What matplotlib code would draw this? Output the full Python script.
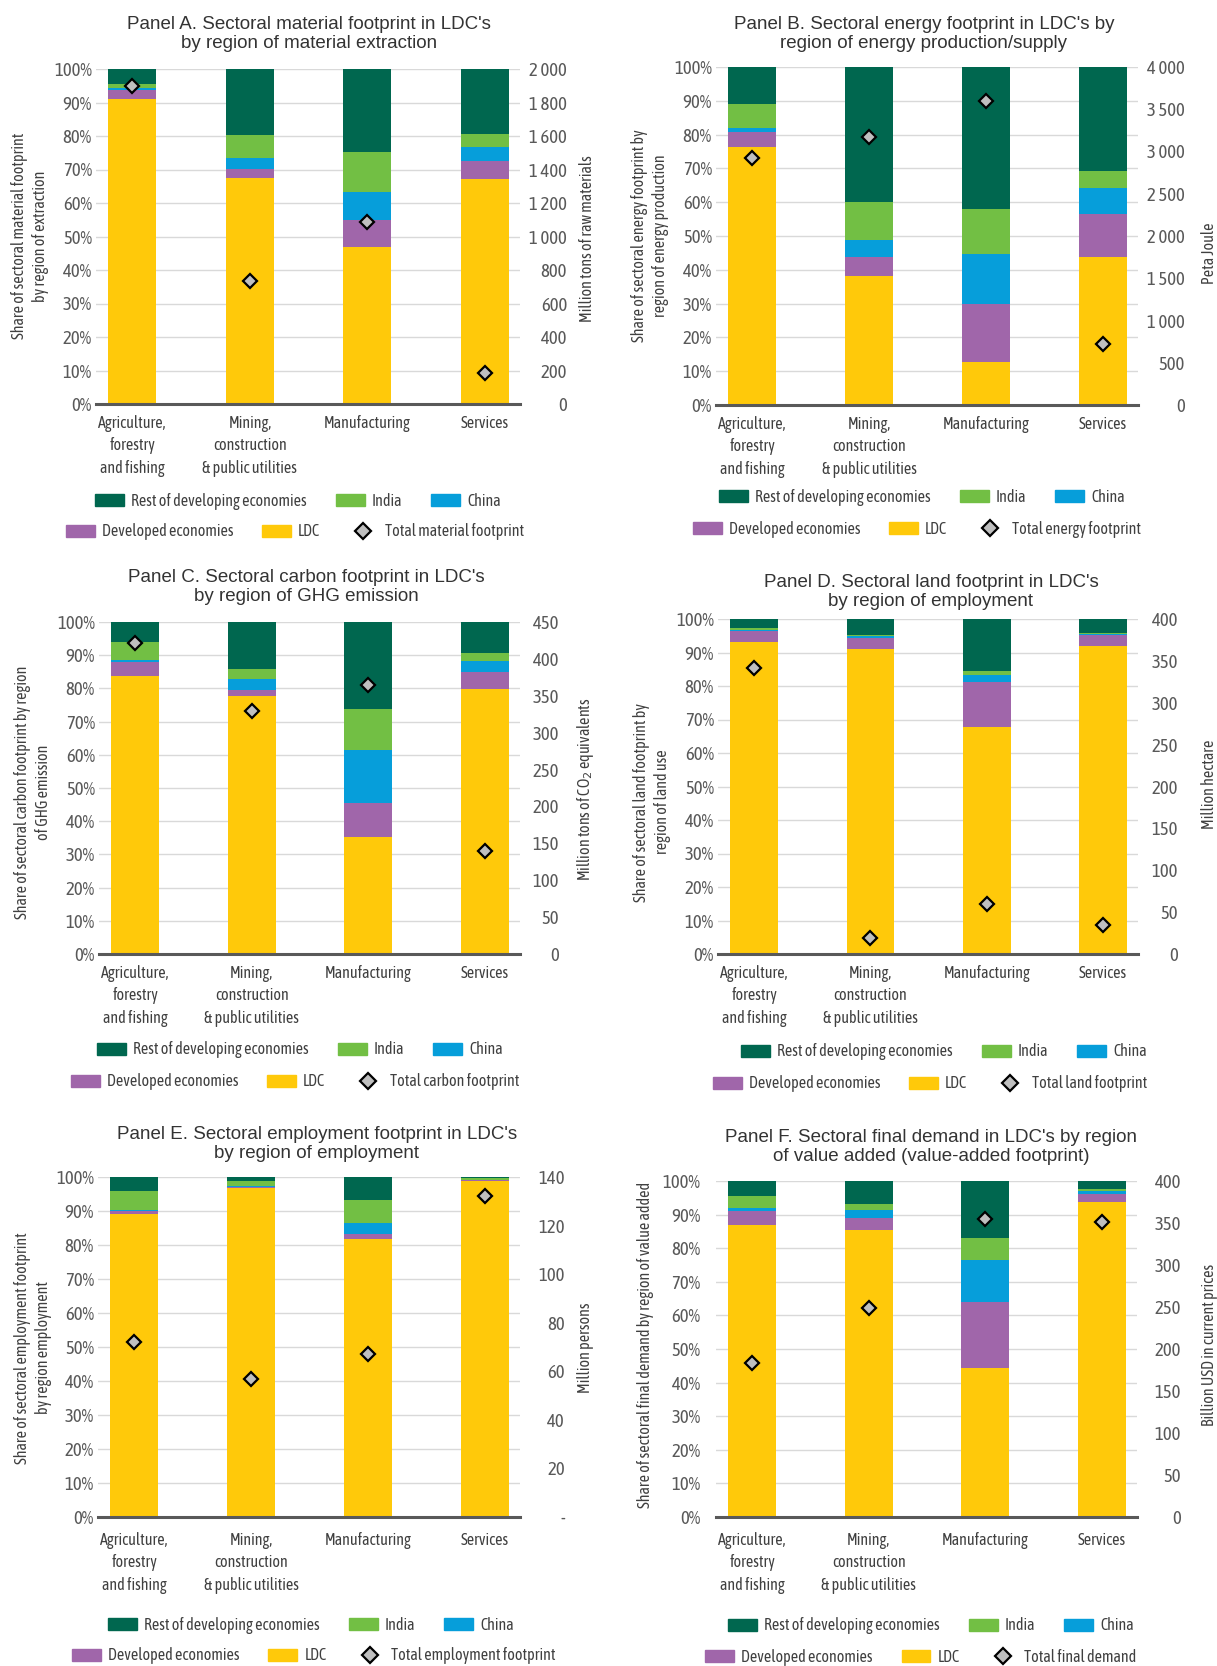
import numpy as np
import matplotlib
matplotlib.use("Agg")
import matplotlib.pyplot as plt
from matplotlib.patches import Patch
from matplotlib.lines import Line2D
from matplotlib import font_manager

sectors = ["Agriculture,\nforestry\nand fishing", "Mining,\nconstruction\n& public utilities",
           "Manufacturing", "Services"]

ldc_a = [90.9, 67.4, 46.8, 67.1]
dev_a = [2.9, 2.8, 8.2, 5.3]
chn_a = [0.4, 3.1, 8.3, 4.2]
ind_a = [1.4, 6.9, 11.8, 4.1]
rest_a = [4.4, 19.8, 24.9, 19.3]
tot_a = [1900, 733, 1086, 183]

ldc_b = [76.3, 38.1, 12.8, 43.8]
dev_b = [4.4, 5.7, 17.1, 12.8]
chn_b = [1.4, 4.9, 14.8, 7.6]
ind_b = [6.9, 11.4, 13.3, 5.1]
rest_b = [11.0, 39.9, 42.0, 30.7]
tot_b = [2925, 3175, 3600, 725]

ldc_c = [83.8, 77.6, 35.2, 79.7]
dev_c = [4.3, 2.0, 10.3, 5.1]
chn_c = [0.6, 3.1, 15.8, 3.5]
ind_c = [5.2, 3.1, 12.5, 2.5]
rest_c = [6.1, 14.2, 26.2, 9.2]
tot_c = [422, 329, 365, 139]

ldc_d = [93.2, 91.0, 67.8, 91.8]
dev_d = [3.3, 3.3, 13.4, 3.3]
chn_d = [0.3, 0.5, 2.0, 0.3]
ind_d = [0.4, 0.5, 1.4, 0.3]
rest_d = [2.8, 4.7, 15.4, 4.3]
tot_d = [342, 19, 60, 35]

ldc_e = [89.1, 96.8, 81.7, 98.8]
dev_e = [0.9, 0.2, 1.5, 0.2]
chn_e = [0.3, 0.5, 3.4, 0.2]
ind_e = [5.6, 1.3, 6.5, 0.4]
rest_e = [4.1, 1.2, 6.9, 0.4]
tot_e = [72, 57, 67, 132]

ldc_f = [86.8, 85.5, 44.4, 93.7]
dev_f = [4.2, 3.4, 19.7, 2.3]
chn_f = [1.0, 2.6, 12.4, 1.0]
ind_f = [3.5, 1.6, 6.6, 0.5]
rest_f = [4.5, 6.9, 16.9, 2.5]
tot_f = [183, 249, 355, 351]

names = ["LDC", "Developed economies", "China", "India", "Rest of developing economies"]
colors = ["#FFC90A", "#A066AA", "#069EDA", "#72BF44", "#00674F"]

# condensed face for the small texts
cond_path = None
for f in font_manager.fontManager.ttflist:
    fn = f.fname.lower().replace("-", "").replace("_", "")
    if "condensedregular" in fn or "narrowregular" in fn or fn.endswith("sansnarrow.ttf"):
        cond_path = f.fname
        break
if cond_path is None:
    for f in font_manager.fontManager.ttflist:
        fn = f.fname.lower()
        if ("narrow" in fn or "condensed" in fn) and not any(
                k in fn for k in ["bold", "italic", "oblique", "light", "medium", "thin", "black"]):
            cond_path = f.fname
            break
scale = 1.0 if cond_path else 0.85


def nf(size):
    if cond_path:
        return font_manager.FontProperties(fname=cond_path, size=size)
    return font_manager.FontProperties(family="Liberation Sans", size=size * scale)


W, H = 1217, 1666
fig = plt.figure(figsize=(W / 100, H / 100), dpi=100)

grey = "#595959"
txt = "#404040"


def px(x, y):
    return x / W, 1 - y / H


def panel(x0, x1, ytop, ybot, series, tot, ymax, ystep, title, tcx, tcy,
          ylab, ylx, yly, rlab, rlx, rly, leg1, leg2, totname, rpad, lpad=3,
          dash_zero=False, xpad=8):
    ax = fig.add_axes([x0 / W, 1 - ybot / H, (x1 - x0) / W, (ybot - ytop) / H])
    x = np.arange(4)
    bottom = np.zeros(4)
    for vals, c in zip(series, colors):
        ax.bar(x, vals, 0.41, bottom=bottom, color=c, zorder=2)
        bottom += np.array(vals)
    ax.set_ylim(0, 100)
    ax.set_xlim(-0.31, 3.30)
    ax.set_yticks(np.arange(0, 101, 10))
    ax.set_yticklabels([f"{v}%" for v in range(0, 101, 10)])
    ax.grid(axis="y", color="#D9D9D9", lw=1, zorder=0)
    ax.set_axisbelow(True)
    for s in ["top", "right", "left"]:
        ax.spines[s].set_visible(False)
    ax.spines["bottom"].set_color(grey)
    ax.spines["bottom"].set_linewidth(2.2)
    ax.spines["bottom"].set_zorder(3)
    ax.tick_params(length=0)
    ax.tick_params(axis="y", labelcolor=grey, pad=lpad)
    ax.set_xticks(x)
    ax.set_xticklabels(sectors, color=txt, linespacing=1.4, va="top")
    ax.tick_params(axis="x", pad=xpad)
    for lab in ax.get_yticklabels():
        lab.set_fontproperties(nf(13.5))
    for lab in ax.get_xticklabels():
        lab.set_fontproperties(nf(11.5))

    ax2 = ax.twinx()
    ax2.set_ylim(0, ymax)
    ticks = np.arange(0, ymax + 1, ystep)
    ax2.set_yticks(ticks)
    labs = [f"{t:,.0f}".replace(",", " ") for t in ticks]
    if dash_zero:
        labs[0] = "-"
    ax2.set_yticklabels(labs, color=grey, ha="right")
    for lab in ax2.get_yticklabels():
        lab.set_fontproperties(nf(13.5))
    ax2.tick_params(length=0, pad=rpad * 0.72)
    for s in ax2.spines.values():
        s.set_visible(False)
    ax2.plot(x, tot, ls="none", marker="D", ms=6.8, mfc="#BFBFBF", mec="black", mew=1.6, zorder=5)

    fig.text(*px(tcx, tcy), title, ha="center", va="center", fontsize=13.5, family="Liberation Sans",
             color="#333333", linespacing=1.22)
    fig.text(*px(ylx, yly), ylab, rotation=90, ha="center", va="center",
             fontproperties=nf(11.5), color=txt, linespacing=1.3)
    fig.text(*px(rlx, rly), rlab, rotation=90, ha="center", va="center",
             fontproperties=nf(11.5), color=txt)

    h1 = [Patch(color=colors[4]), Patch(color=colors[3]), Patch(color=colors[2])]
    l1 = [names[4], names[3], names[2]]
    h2 = [Patch(color=colors[1]), Patch(color=colors[0]),
          Line2D([], [], ls="none", marker="D", ms=8.5, mfc="#BFBFBF", mec="black", mew=1.6)]
    l2 = [names[1], names[0], totname]
    for h, l, (cx, cy) in [(h1, l1, leg1), (h2, l2, leg2)]:
        lg = fig.legend(h, l, loc="center", bbox_to_anchor=px(cx, cy), ncol=3, frameon=False,
                        handlelength=1.8, handleheight=0.7, handletextpad=0.45, columnspacing=1.8,
                        prop=nf(11.5))
        for t in lg.get_texts():
            t.set_color(txt)


panel(96, 520, 69, 404, [ldc_a, dev_a, chn_a, ind_a, rest_a], tot_a, 2000, 200,
      "Panel A. Sectoral material footprint in LDC's\nby region of material extraction", 309, 34,
      "Share of sectoral material footprint\nby region of extraction", 30, 236,
      "Million tons of raw materials", 588, 239,
      (298, 501), (295, 532), "Total material footprint", rpad=47)

panel(716, 1138, 67, 405, [ldc_b, dev_b, chn_b, ind_b, rest_b], tot_b, 4000, 500,
      "Panel B. Sectoral energy footprint in LDC's by\nregion of energy production/supply", 924, 34,
      "Share of sectoral energy footprint by\nregion of energy production", 650, 236,
      "Peta Joule", 1209, 253,
      (922, 497), (917, 529), "Total energy footprint", rpad=47)

panel(99, 520, 622, 954, [ldc_c, dev_c, chn_c, ind_c, rest_c], tot_c, 450, 50,
      "Panel C. Sectoral carbon footprint in LDC's\nby region of GHG emission", 306, 587,
      "Share of sectoral carbon footprint by region\nof GHG emission", 33, 792,
      "Million tons of CO$_2$ equivalents", 585, 789,
      (300, 1050), (295, 1082), "Total carbon footprint", rpad=39)

panel(718, 1138, 619, 954, [ldc_d, dev_d, chn_d, ind_d, rest_d], tot_d, 400, 50,
      "Panel D. Sectoral land footprint in LDC's\nby region of employment", 931, 592,
      "Share of sectoral land footprint by\nregion of land use", 652, 802,
      "Million hectare", 1209, 784,
      (944, 1052), (930, 1084), "Total land footprint", rpad=40)

panel(98, 520, 1177, 1517, [ldc_e, dev_e, chn_e, ind_e, rest_e], tot_e, 140, 20,
      "Panel E. Sectoral employment footprint in LDC's\nby region of employment", 317, 1144,
      "Share of sectoral employment footprint\nby region employment", 33, 1348,
      "Million persons", 586, 1348,
      (311, 1625), (314, 1656), "Total employment footprint", rpad=45, dash_zero=True, xpad=11)

panel(716, 1137, 1181, 1517, [ldc_f, dev_f, chn_f, ind_f, rest_f], tot_f, 400, 50,
      "Panel F. Sectoral final demand in LDC's by region\nof value added (value-added footprint)", 931, 1147,
      "Share of sectoral final demand by region of value added", 645, 1345,
      "Billion USD in current prices", 1209, 1345,
      (931, 1626), (921, 1657), "Total final demand", rpad=44, lpad=11, xpad=11)

fig.savefig("out.png", dpi=100, facecolor="white")
